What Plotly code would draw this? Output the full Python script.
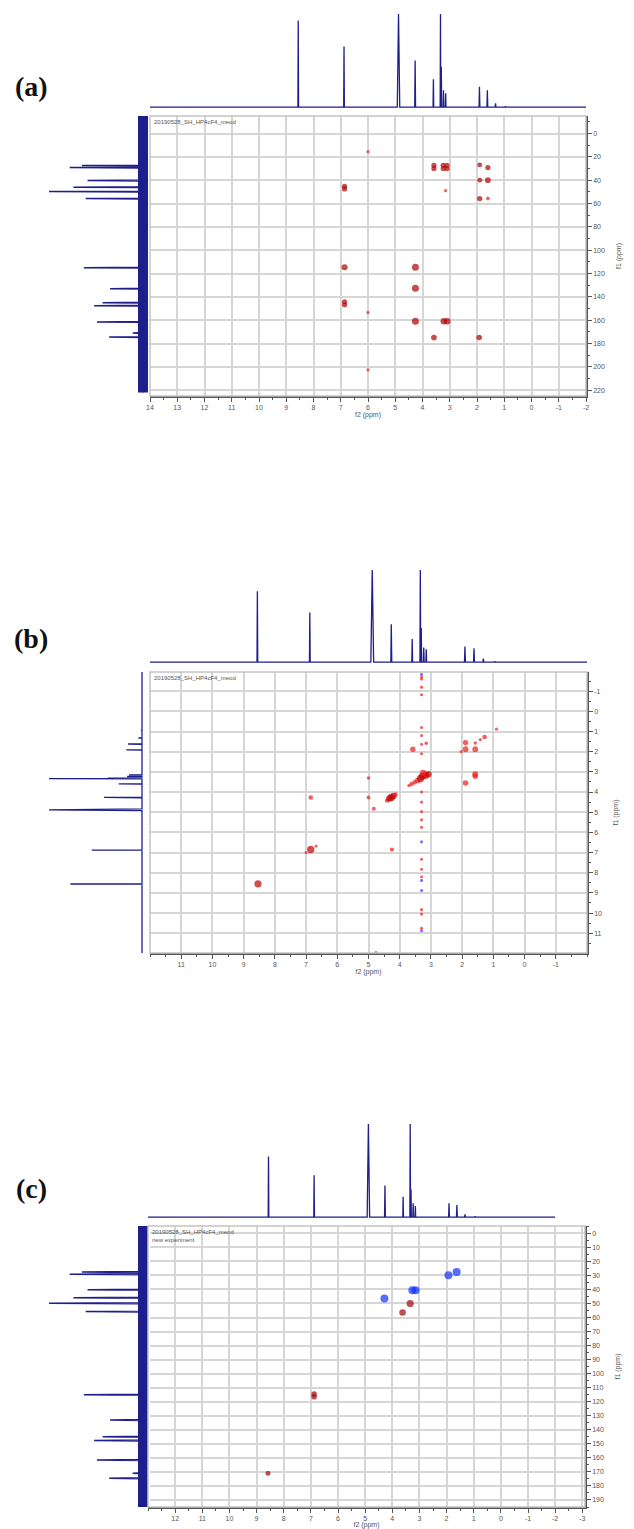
import plotly.graph_objects as go

W, H = 634, 1529

# ---------------- data ----------------
# 1H spectrum (projections): peak positions (ppm), line half-widths (ppm), relative heights per panel
H1_PPM = [8.56, 6.88, 4.88, 4.27, 3.60, 3.34, 3.31, 3.23, 3.15, 1.91, 1.62, 1.32, 0.95]
H1_HALFWIDTH = [0.012, 0.012, 0.045, 0.015, 0.012, 0.012, 0.012, 0.012, 0.012, 0.015, 0.015, 0.015, 0.015]
H1_INT_A = [0.93, 0.65, 1.00, 0.50, 0.30, 1.00, 0.43, 0.18, 0.15, 0.22, 0.18, 0.04, 0.01]
H1_INT_B = [0.77, 0.54, 1.00, 0.41, 0.25, 1.00, 0.37, 0.16, 0.14, 0.17, 0.15, 0.04, 0.01]
H1_INT_C = [0.65, 0.45, 1.00, 0.34, 0.22, 1.00, 0.30, 0.15, 0.12, 0.15, 0.13, 0.03, 0.01]
H1_WINDOW_A = (-2.0, 14.0)
H1_WINDOW_B = (-2.0, 12.0)
H1_WINDOW_C = (-2.0, 13.0)

# 13C spectrum (vertical projection)
C13_PPM = [27.5, 29.2, 40.3, 46.0, 49.8, 55.8, 115.0, 133.0, 145.0, 147.6, 161.5, 171.0, 174.5]
C13_INT = [0.65, 0.78, 0.59, 0.74, 1.00, 0.61, 0.63, 0.35, 0.43, 0.52, 0.49, 0.11, 0.36]
C13_HALFWIDTH = 0.35
C13_WINDOW = (-15.0, 222.0)

# (a) HMBC cross peaks
HMBC_F2 = [6.00, 3.58, 3.58, 3.24, 3.24, 3.10, 3.10, 3.15, 1.90, 1.60, 1.90, 1.60, 1.90, 1.60,
           6.86, 6.86, 6.86, 4.26, 4.26, 6.86, 6.86, 6.00, 4.26, 3.22, 3.09, 3.58, 1.92, 6.00]
HMBC_F1 = [15.7, 27.3, 30.0, 27.3, 30.0, 27.3, 30.0, 49.0, 26.9, 29.2, 40.0, 40.0, 55.7, 55.7,
           45.3, 47.5, 114.6, 114.6, 132.6, 144.2, 146.8, 153.4, 161.0, 161.0, 161.0, 174.9, 174.9, 202.6]
HMBC_INT = [1.0, 2.0, 2.0, 2.0, 2.0, 2.0, 2.0, 1.0, 1.8, 2.0, 1.8, 2.3, 2.0, 1.2,
            2.0, 2.0, 2.5, 3.0, 3.0, 2.0, 2.0, 1.0, 3.0, 2.7, 2.7, 2.3, 2.2, 1.0]

# (b) COSY cross peaks (sign +1 positive / -1 negative contour)
COSY_F2 = [8.54, 6.85, 7.00, 6.68, 6.85, 4.25, 4.40, 4.33, 4.27, 4.20, 4.13, 5.00, 5.00, 4.83,
           3.70, 3.62, 3.52, 3.42, 3.33, 3.28, 3.17, 3.08, 3.25, 3.58, 3.15, 1.89, 1.89, 1.58,
           1.58, 1.42, 1.28, 0.90, 2.03, 1.89, 1.58, 1.58, 4.76,
           3.30, 3.30, 3.30, 3.30, 3.30, 3.30, 3.30, 3.30, 3.30, 3.30, 3.30, 3.30, 3.30, 3.30,
           3.30, 3.30, 3.30, 3.30, 3.30,
           3.30, 3.30, 3.30, 3.30, 3.30]
COSY_F1 = [8.55, 6.85, 7.00, 6.68, 4.27, 6.85, 4.42, 4.32, 4.27, 4.20, 4.12, 3.30, 4.27, 4.83,
           3.68, 3.60, 3.52, 3.42, 3.33, 3.22, 3.17, 3.12, 3.05, 1.88, 1.58, 1.55, 1.88, 1.88,
           1.57, 1.40, 1.27, 0.88, 2.00, 3.55, 3.12, 3.22, 11.97,
           -1.70, -1.60, -1.20, -0.82, 0.80, 1.20, 1.63, 2.10, 4.00, 4.50, 4.97, 5.38, 5.75, 7.33,
           7.83, 8.20, 9.83, 10.05, 10.75,
           -1.83, 6.47, 8.38, 8.88, 10.88]
COSY_INT = [3.0, 3.0, 0.8, 0.8, 1.6, 1.4, 1.6, 2.6, 3.0, 2.6, 1.4, 1.0, 1.2, 1.2,
            1.0, 1.5, 1.6, 2.2, 3.0, 2.8, 3.0, 2.6, 2.4, 2.0, 1.0, 2.0, 2.2, 2.2,
            1.0, 0.9, 1.6, 0.8, 0.9, 2.1, 2.3, 2.0, 1.0,
            0.8, 0.8, 0.8, 0.8, 0.8, 0.8, 0.8, 0.8, 0.8, 0.8, 0.8, 0.8, 0.8, 0.8,
            0.8, 0.8, 0.8, 0.8, 0.8,
            0.8, 0.8, 0.8, 0.8, 0.8]
COSY_SIGN = [1] * 56 + [-1] * 5

# (c) HSQC cross peaks (sign +1 blue / -1 red)
HSQC_F2 = [4.29, 3.26, 3.14, 1.93, 1.63, 3.34, 3.62, 6.88, 6.88, 8.58]
HSQC_F1 = [46.4, 40.5, 40.5, 29.8, 27.6, 50.0, 56.4, 114.5, 116.5, 171.0]
HSQC_INT = [3.0, 3.0, 3.0, 3.0, 3.0, 2.6, 2.3, 1.8, 1.8, 1.5]
HSQC_SIGN = [1, 1, 1, 1, 1, -1, -1, -1, -1, -1]

# tick labels
A_XTICKS = [14, 13, 12, 11, 10, 9, 8, 7, 6, 5, 4, 3, 2, 1, 0, -1, -2]
A_YTICKS = [0, 20, 40, 60, 80, 100, 120, 140, 160, 180, 200, 220]
B_XTICKS = [11, 10, 9, 8, 7, 6, 5, 4, 3, 2, 1, 0, -1]
B_YTICKS = [-1, 0, 1, 2, 3, 4, 5, 6, 7, 8, 9, 10, 11]
C_XTICKS = [12, 11, 10, 9, 8, 7, 6, 5, 4, 3, 2, 1, 0, -1, -2, -3]
C_YTICKS = [0, 10, 20, 30, 40, 50, 60, 70, 80, 90, 100, 110, 120, 130, 140, 150, 160, 170, 180, 190]

DATASET = "20190528_SH_HP4cF4_meod"

# ---------------- styling ----------------
NAVY = "#1e1e8c"
GRID = "#d6d6d6"
AXC = "#555555"
TF = dict(family="Liberation Sans", size=7, color="#555555")


def dx(x0, x1):
    return [x0 / W, x1 / W]


def dy(ytop, ybot):
    return [1 - ybot / H, 1 - ytop / H]


def names(n):
    return ("x" if n == 1 else f"x{n}", "y" if n == 1 else f"y{n}")


def lname(n, k):
    return f"{k}axis" if n == 1 else f"{k}axis{n}"


def stick(ppm, hts, hw, window):
    lo, hi = window
    order = sorted(range(len(ppm)), key=lambda i: -ppm[i])
    xs, ys = [hi], [0]
    for i in order:
        w = hw[i] if isinstance(hw, list) else hw
        xs += [ppm[i] + w, ppm[i], ppm[i] - w]
        ys += [0, hts[i], 0]
    xs.append(lo)
    ys.append(0)
    return xs, ys


fig = go.Figure()
layout = dict(template="none", width=W, height=H, margin=dict(l=0, r=0, t=0, b=0),
              showlegend=False, paper_bgcolor="white", plot_bgcolor="white",
              font=dict(family="Liberation Sans", color="#555555"))
shapes, annotations = [], []


def main_axes(n, xdom, ydom, xr, yr, xt, yt, xminor, yminor):
    xn, yn = names(n)
    layout[lname(n, "x")] = dict(
        domain=xdom, range=xr, anchor=yn, tickmode="array", tickvals=xt,
        ticktext=[str(v) for v in xt], showgrid=True, gridcolor=GRID, gridwidth=1.5,
        zeroline=False, showline=True, linecolor=AXC, linewidth=1.5, ticks="outside",
        ticklen=4, tickwidth=1, tickcolor=AXC, tickfont=TF,
        title=dict(text="f2 (ppm)", font=TF, standoff=1),
        minor=dict(tickmode="linear", tick0=0, dtick=xminor, ticks="outside", ticklen=2,
                   tickcolor=AXC, showgrid=False),
        fixedrange=True)
    layout[lname(n, "y")] = dict(
        domain=ydom, range=yr, anchor=xn, side="right", tickmode="array", tickvals=yt,
        ticktext=[str(v) for v in yt], showgrid=True, gridcolor=GRID, gridwidth=1.5,
        zeroline=False, showline=True, linecolor=AXC, linewidth=1.5, ticks="outside",
        ticklen=4, tickwidth=1, tickcolor=AXC, tickfont=TF,
        title=dict(text="f1 (ppm)", font=TF, standoff=12),
        minor=dict(tickmode="linear", tick0=0, dtick=yminor, ticks="outside", ticklen=2,
                   tickcolor=AXC, showgrid=False),
        fixedrange=True)
    shapes.append(dict(type="rect", xref=f"{xn} domain", yref=f"{yn} domain",
                       x0=0, x1=1, y0=0, y1=1, line=dict(color="#c4c4c4", width=1.5),
                       layer="above"))


def hidden_axes(n, xdom, ydom, xr, yr):
    xn, yn = names(n)
    layout[lname(n, "x")] = dict(domain=xdom, range=xr, anchor=yn, visible=False,
                                 showgrid=False, zeroline=False, fixedrange=True)
    layout[lname(n, "y")] = dict(domain=ydom, range=yr, anchor=xn, visible=False,
                                 showgrid=False, zeroline=False, fixedrange=True)


LEFT_RANGE = [143 / 94, -7 / 94]   # baseline at x=143 px, full height = 94 px

# ---------- panel (a) ----------
A_XR = [14.0, -2.0]
A_YR = [225.0, -15.0]
main_axes(1, dx(150, 586), dy(116, 396), A_XR, A_YR, A_XTICKS, A_YTICKS, 0.5, 10)
hidden_axes(2, dx(150, 586), dy(14, 109), A_XR, [-0.02, 1.0])
hidden_axes(3, dx(0, 150), dy(116, 396), LEFT_RANGE, A_YR)

xs, ys = stick(H1_PPM, H1_INT_A, H1_HALFWIDTH, H1_WINDOW_A)
fig.add_trace(go.Scatter(x=xs, y=ys, mode="lines", line=dict(color=NAVY, width=1.3),
                         xaxis="x2", yaxis="y2", hoverinfo="skip"))
fig.add_trace(go.Scatter(x=[0, 0], y=list(C13_WINDOW), mode="lines",
                         line=dict(color=NAVY, width=10), xaxis="x3", yaxis="y3", hoverinfo="skip"))
cy, cx = stick(C13_PPM, C13_INT, C13_HALFWIDTH, C13_WINDOW)
fig.add_trace(go.Scatter(x=cx, y=cy, mode="lines", line=dict(color=NAVY, width=1.5),
                         xaxis="x3", yaxis="y3", hoverinfo="skip"))
fig.add_trace(go.Scatter(
    x=HMBC_F2, y=HMBC_F1, mode="markers", xaxis="x", yaxis="y",
    marker=dict(size=[1.6 + 1.8 * v for v in HMBC_INT],
                color=["#e42a2a" if v < 1.5 else "#b00000" for v in HMBC_INT],
                line=dict(width=0))))
annotations.append(dict(text=DATASET, xref="x domain", yref="y domain", x=0.004, y=0.998,
                        xanchor="left", yanchor="top", showarrow=False,
                        font=dict(family="Liberation Sans", size=6, color="#555")))

# ---------- panel (b) ----------
B_XR = [12.0, -2.0]
B_YR = [11.98, -1.95]
main_axes(4, dx(150, 587), dy(672, 953), B_XR, B_YR, B_XTICKS, B_YTICKS, 0.5, 0.5)
hidden_axes(5, dx(150, 587), dy(570, 664), B_XR, [-0.02, 1.0])
hidden_axes(6, dx(0, 150), dy(672, 953), [142 / 93, -8 / 93], B_YR)

xs, ys = stick(H1_PPM, H1_INT_B, H1_HALFWIDTH, H1_WINDOW_B)
fig.add_trace(go.Scatter(x=xs, y=ys, mode="lines", line=dict(color=NAVY, width=1.3),
                         xaxis="x5", yaxis="y5", hoverinfo="skip"))
fig.add_trace(go.Scatter(x=ys, y=xs, mode="lines", line=dict(color=NAVY, width=1.3),
                         xaxis="x6", yaxis="y6", hoverinfo="skip"))
pos = [i for i, s in enumerate(COSY_SIGN) if s > 0]
neg = [i for i, s in enumerate(COSY_SIGN) if s < 0]
fig.add_trace(go.Scatter(
    x=[COSY_F2[i] for i in pos], y=[COSY_F1[i] for i in pos], mode="markers",
    xaxis="x4", yaxis="y4",
    marker=dict(size=[1.6 + 1.9 * COSY_INT[i] for i in pos],
                color=["#c40000" if COSY_INT[i] >= 2.5 else "#ee1c1c" for i in pos],
                line=dict(width=0))))
fig.add_trace(go.Scatter(
    x=[COSY_F2[i] for i in neg], y=[COSY_F1[i] for i in neg], mode="markers",
    xaxis="x4", yaxis="y4",
    marker=dict(size=[1.6 + 1.9 * COSY_INT[i] for i in neg], color="#3a3aff",
                line=dict(width=0))))
annotations.append(dict(text=DATASET, xref="x4 domain", yref="y4 domain", x=0.004, y=0.998,
                        xanchor="left", yanchor="top", showarrow=False,
                        font=dict(family="Liberation Sans", size=6, color="#555")))

# ---------- panel (c) ----------
C_XR = [13.0, -3.1]
C_YR = [195.0, -5.2]
main_axes(7, dx(148, 585), dy(1226, 1507), C_XR, C_YR, C_XTICKS, C_YTICKS, 0.5, 5)
hidden_axes(8, dx(148, 585), dy(1124, 1219), C_XR, [-0.02, 1.0])
hidden_axes(9, dx(0, 150), dy(1226, 1507), LEFT_RANGE, C_YR)

xs, ys = stick(H1_PPM, H1_INT_C, H1_HALFWIDTH, H1_WINDOW_C)
fig.add_trace(go.Scatter(x=xs, y=ys, mode="lines", line=dict(color=NAVY, width=1.3),
                         xaxis="x8", yaxis="y8", hoverinfo="skip"))
fig.add_trace(go.Scatter(x=[0, 0], y=list(C13_WINDOW), mode="lines",
                         line=dict(color=NAVY, width=10), xaxis="x9", yaxis="y9", hoverinfo="skip"))
fig.add_trace(go.Scatter(x=cx, y=cy, mode="lines", line=dict(color=NAVY, width=1.5),
                         xaxis="x9", yaxis="y9", hoverinfo="skip"))
fig.add_trace(go.Scatter(
    x=HSQC_F2, y=HSQC_F1, mode="markers", xaxis="x7", yaxis="y7",
    marker=dict(size=[2 + 2.0 * v for v in HSQC_INT],
                color=["#1030ff" if s > 0 else "#a00808" for s in HSQC_SIGN],
                line=dict(width=0))))
annotations.append(dict(text=DATASET + "<br>new experiment", xref="x7 domain", yref="y7 domain",
                        x=0.004, y=0.998, xanchor="left", yanchor="top", showarrow=False,
                        align="left",
                        font=dict(family="Liberation Sans", size=6, color="#555")))

# panel letters
for label, yc in (("(a)", 87), ("(b)", 638), ("(c)", 1188)):
    annotations.append(dict(text=f"<b>{label}</b>", xref="paper", yref="paper",
                            x=31 / W, y=1 - yc / H, xanchor="center", yanchor="middle",
                            showarrow=False,
                            font=dict(family="Liberation Serif", size=28, color="#111")))

layout["shapes"] = shapes
layout["annotations"] = annotations
fig.update_layout(**layout)
fig.write_html("out.html")
